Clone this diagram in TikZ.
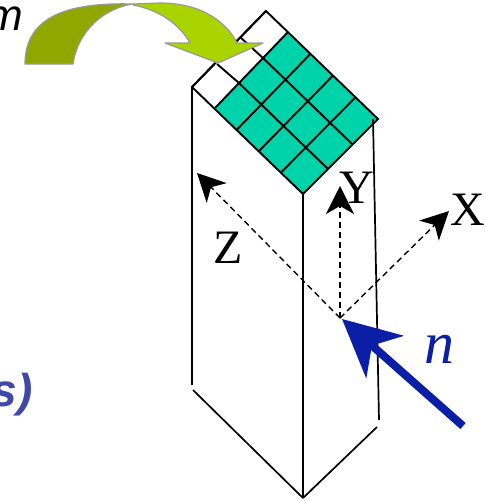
\documentclass[tikz,border=0pt]{standalone}
\usepackage{fontspec}
\setmainfont{Liberation Serif}
\setsansfont{Liberation Sans}
\usetikzlibrary{arrows.meta}
\definecolor{cellteal}{HTML}{00D2AA}
\definecolor{bendlight}{HTML}{AAD400}
\definecolor{benddark}{HTML}{8FA800}
\definecolor{normalblue}{HTML}{0A1EA6}
\definecolor{textblue}{HTML}{3F48A8}

\begin{document}
\begin{tikzpicture}[x=1pt,y=-1pt]
\tikzset{
  prismedge/.style={draw=black,line width=1.7pt},
  gridedge/.style={draw=black,line width=1.9pt},
  axisedge/.style={draw=black,line width=1.4pt,dash pattern=on 6pt off 4pt,-{Stealth[length=28pt,width=28pt,inset=8pt]}},
  normaledge/.style={draw=normalblue,line width=8pt,-{Stealth[length=57pt,width=56pt,inset=17pt]}},
  bendpart/.style={draw=gray!80,line width=1.2pt,line join=round},
  axislabel/.style={font=\fontsize{48}{48}\selectfont,inner sep=0pt}
}
\useasboundingbox (0,0) rectangle (486,501);
% top face
\coordinate (c_T) at (288,32);
\coordinate (c_R) at (378,119);
\coordinate (c_B) at (303,194);
\coordinate (c_L) at (215,108);
\coordinate (c_ST) at (266,11);
\coordinate (c_SL) at (192,87);
\fill[cellteal] (c_T) -- (c_R) -- (c_B) -- (c_L) -- cycle;
\draw[gridedge] (c_ST) -- (c_R) -- (c_B) -- (c_SL) -- cycle;
\foreach \i in {0,1,2,3} {
  \draw[gridedge] ({288+22.5*\i},{32+21.75*\i}) -- ({215+22*\i},{108+21.5*\i});
}
\draw[gridedge] (263,58) -- (240,37);
\draw[gridedge] (239,83) -- (217,64);
\draw[gridedge] (263,58) -- (352,144);
\draw[gridedge] (239,83) -- (328,169);
\draw[gridedge] (c_ST) -- (c_SL);
% prism
\coordinate (c_LB) at (192,385);
\coordinate (c_LC) at (193,390);
\coordinate (c_RB) at (379,420);
\coordinate (c_RC) at (377,427);
\coordinate (c_BB) at (303,498);
\draw[prismedge] (c_SL) -- (c_LB);
\draw[prismedge] (c_R) ++(-5,0) -- (c_RB);
\draw[prismedge] (c_B) -- (c_BB);
\draw[prismedge] (c_LC) -- (c_BB);
\draw[prismedge] (c_RC) -- (c_BB);
% axes
\coordinate (c_O) at (340,318);
\coordinate (c_Xtip) at (449,211);
\coordinate (c_Ytip) at (340,186);
\coordinate (c_Ztip) at (197,173);
\draw[axisedge] (c_O) -- (c_Xtip);
\draw[axisedge] (c_O) -- (c_Ytip);
\draw[axisedge] (c_O) -- (c_Ztip);
\node[axislabel] (n_X) at (468,210) {X};
\node[axislabel] (n_Y) at (357,188) {Y};
\node[axislabel] (n_Z) at (228,248) {Z};
% normal
\coordinate (c_Ntail) at (463,426);
\coordinate (c_Ntip) at (342,319);
\draw[normaledge] (c_Ntail) -- (c_Ntip);
\node[font=\fontsize{60}{60}\selectfont\itshape,text=normalblue,inner sep=0pt] (n_n) at (439,349) {n};
% bent arrow
\draw[bendpart,fill=benddark] (25,64) .. controls (25,18) and (65,2) .. (133,4)
  .. controls (105,8) and (78,30) .. (73,64) -- cycle;
\draw[bendpart,fill=bendlight] (133,5) .. controls (160,10) and (180,25) .. (190,43)
  -- (165,43) -- (218,63) -- (263,43) -- (237,43)
  .. controls (228,25) and (205,3) .. (160,3) -- (133,4);
% cut-off captions
\node[anchor=east,font=\sffamily\itshape\fontsize{44}{44}\selectfont,inner sep=0pt] (n_m) at (23,19) {m};
\node[anchor=east,font=\sffamily\bfseries\itshape\fontsize{46}{46}\selectfont,text=textblue,inner sep=0pt] (n_s) at (33,395) {s)};
\end{tikzpicture}
\end{document}
